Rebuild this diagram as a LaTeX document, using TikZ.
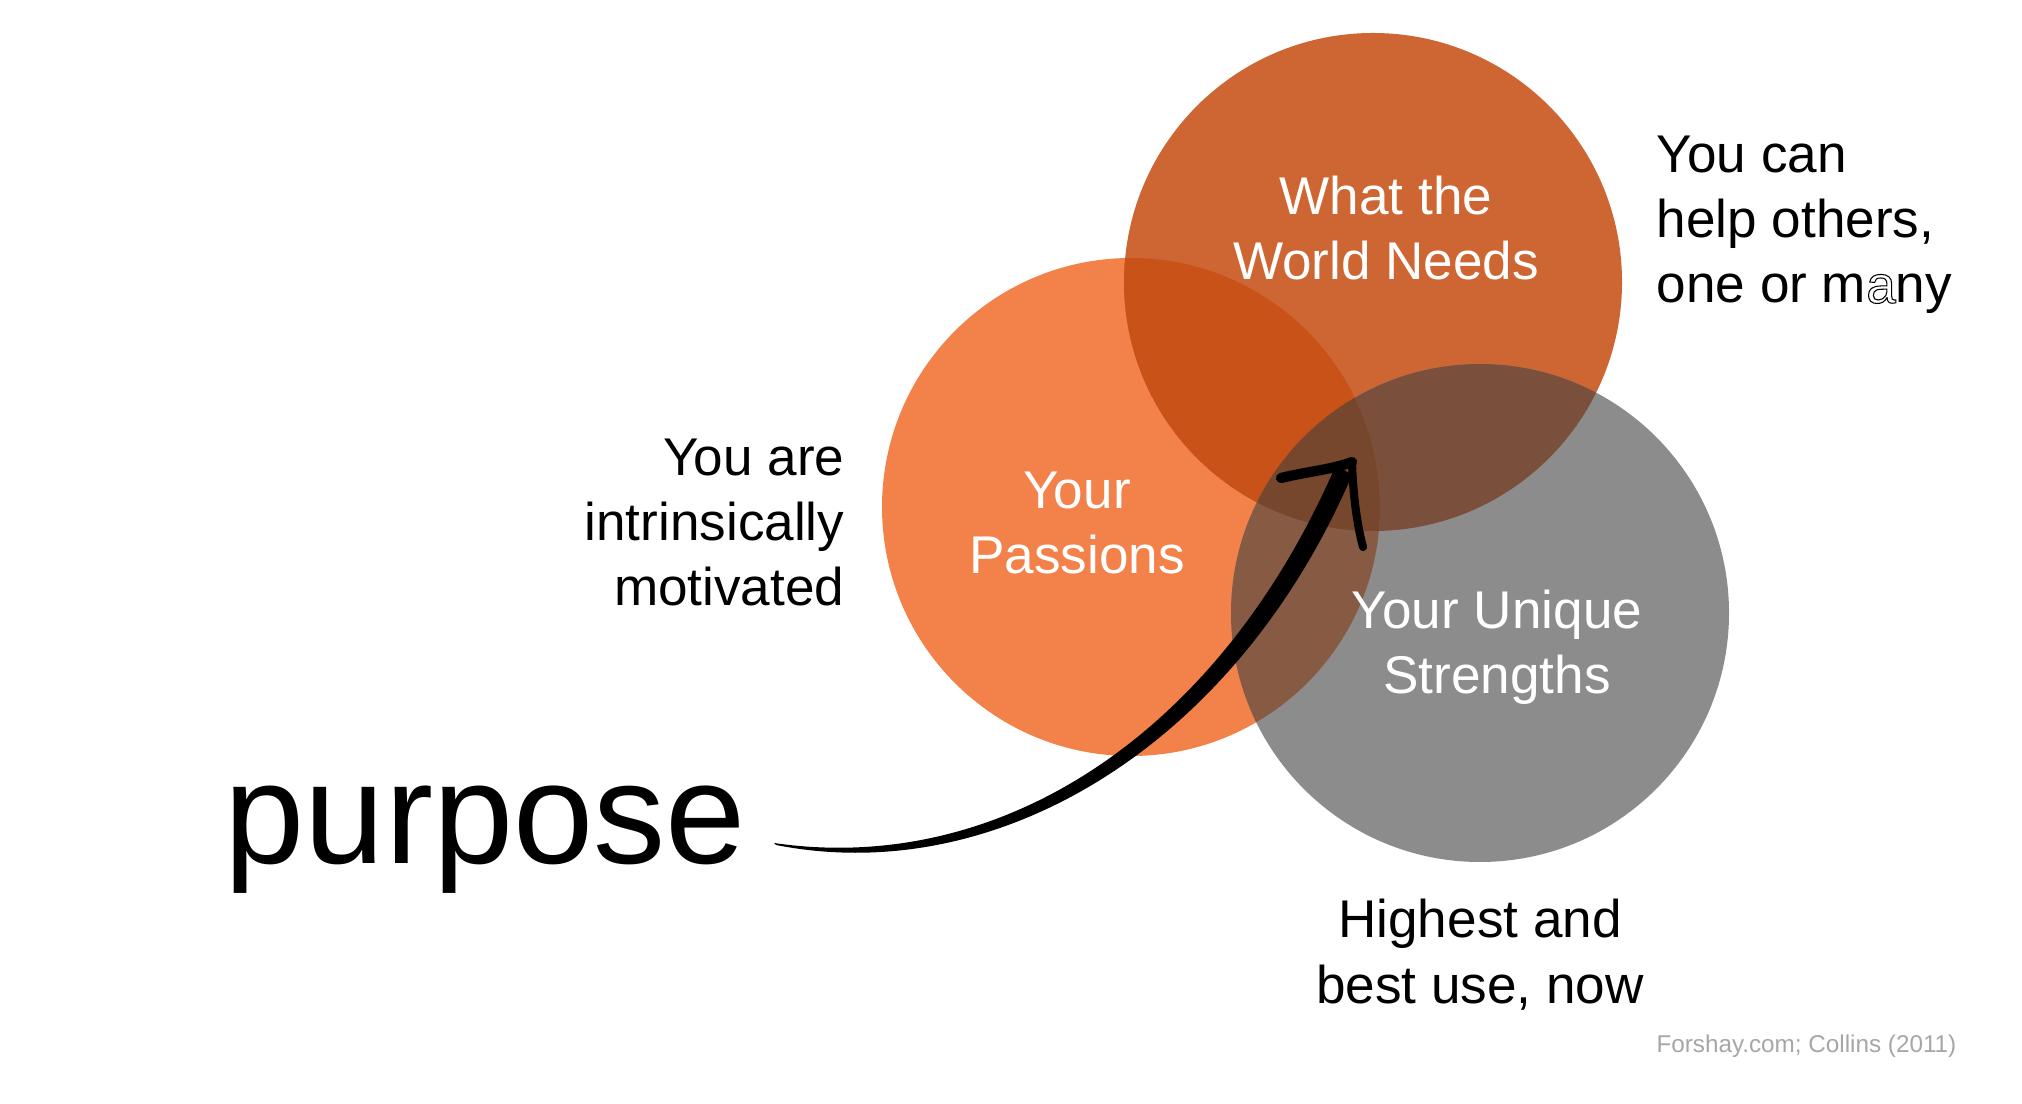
\documentclass[tikz,border=0pt]{standalone}
\usepackage{fontspec}
\setmainfont{Liberation Sans}
\definecolor{passionsfill}{HTML}{F3824A}
\definecolor{needsfill}{HTML}{CD6633}
\definecolor{strengthsfill}{HTML}{8C8C8C}
\definecolor{passneedsfill}{HTML}{C95219}
\definecolor{passstrfill}{HTML}{875A44}
\definecolor{needsstrfill}{HTML}{7A4F3B}
\definecolor{allfill}{HTML}{76462D}
\definecolor{creditgray}{HTML}{A6A6A6}
\newcommand{\hollowa}{\special{pdf:literal direct 2 Tr 0.3 w 1 g 0 G}a\special{pdf:literal direct 0 Tr 0 g}}
\tikzset{
  sidetext/.style={font=\fontsize{15.1}{18.5}\selectfont, inner sep=0pt},
  circletext/.style={sidetext, text=white, align=center, anchor=base},
  barb/.style={line cap=round, line width=#1}
}

\begin{document}
\begin{tikzpicture}[x=0.01cm,y=-0.01cm]
%coordinates are pixels of the slide, y pointing down
%multi-line nodes sit on the baseline of their last line
\newcommand{\rad}{249}
\useasboundingbox (0,0) rectangle (2022,1104);
\coordinate (passions) at (1131,507);
\coordinate (needs) at (1373,282);
\coordinate (strengths) at (1480,613);
\fill[passionsfill] (passions) circle (\rad);
\fill[needsfill] (needs) circle (\rad);
\fill[strengthsfill] (strengths) circle (\rad);
%overlaps
\begin{scope}
\clip (needs) circle (\rad);
\fill[needsstrfill] (strengths) circle (\rad);
\end{scope}
\begin{scope}
\clip (passions) circle (\rad);
\fill[passneedsfill] (needs) circle (\rad);
\fill[passstrfill] (strengths) circle (\rad);
\clip (needs) circle (\rad);
\fill[allfill] (strengths) circle (\rad);
\end{scope}
\node[circletext] (needstext) at (1386,280) {What the\\World Needs};
\node[circletext] (passionstext) at (1077,574) {Your\\Passions};
\node[circletext] (strengthstext) at (1497,694) {Your Unique\\Strengths};
\node[sidetext, anchor=base east, align=right] (motivated) at (845,606) {You are\\intrinsically\\motivated};
\node[sidetext, anchor=base west, align=left] (helpothers) at (1656,303) {You can\\help others,\\one or m\hollowa ny};
\node[sidetext, anchor=base, align=center] (bestuse) at (1480,1003) {Highest and\\best use, now};
\node[anchor=base west, inner sep=0pt, font=\fontsize{41}{48}\selectfont] (purpose) at (224,863) {purpose};
\node[anchor=base east, inner sep=0pt, text=creditgray, font=\fontsize{6.9}{8}\selectfont] (credit) at (1957,1052) {Forshay.com; Collins (2011)};
%hand drawn arrow
\coordinate (tail) at (774,843);
\coordinate (tip) at (1352,462);
\fill (tail) .. controls (1000,876) and (1219,735) .. (1336,465) -- (1352,475) .. controls (1237,743) and (1000,889) .. (776,845) -- cycle;
\draw[barb=2.9pt] (1281,478) .. controls (1310,471) and (1330,470) .. (tip);
\draw[barb=2.3pt] (tip) .. controls (1353,495) and (1357,525) .. (1363,547);
\end{tikzpicture}
\end{document}
